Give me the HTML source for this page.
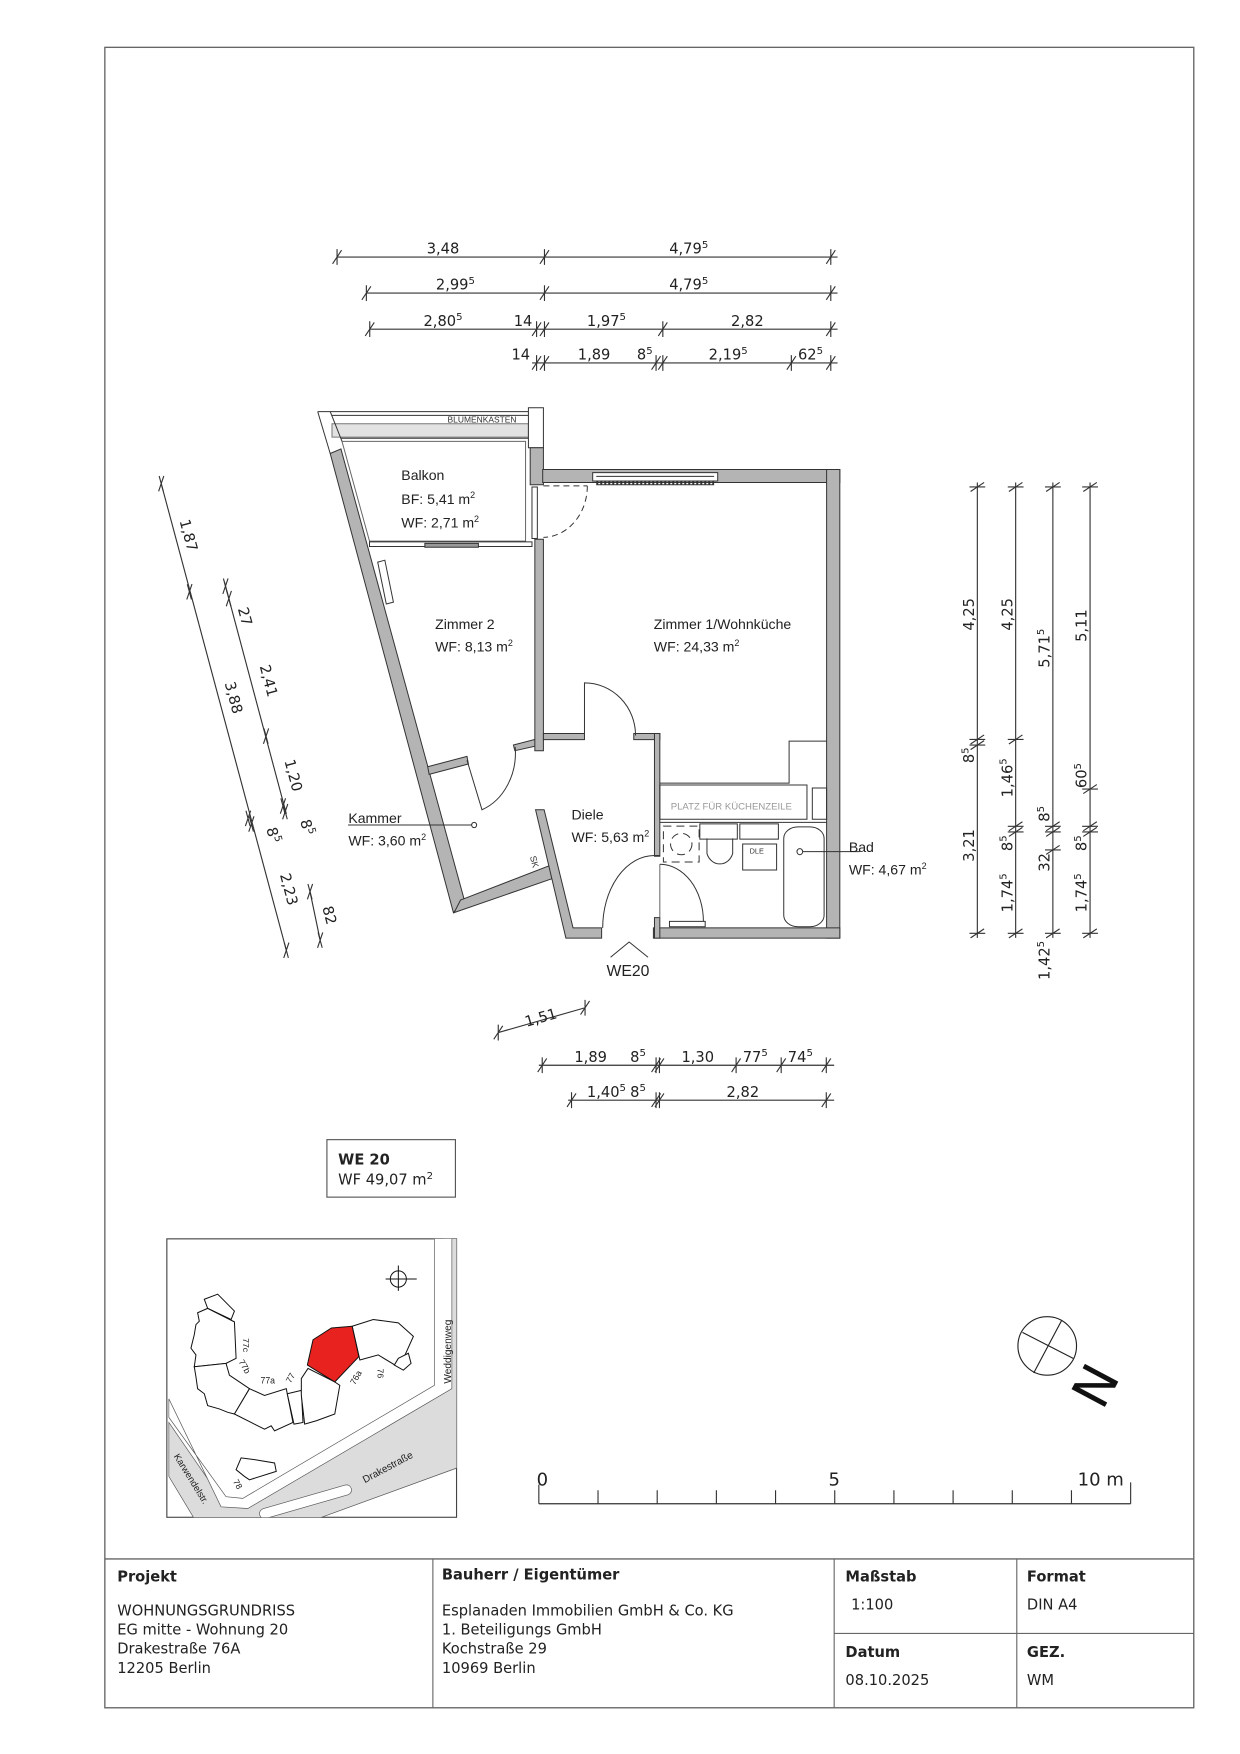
<!DOCTYPE html>
<html><head><meta charset="utf-8"><style>
html,body{margin:0;padding:0;background:#fff}
svg{display:block}
.d{font-family:"DejaVu Sans","Liberation Sans",sans-serif;font-size:13px;fill:#222}
.l{font-family:"Liberation Sans Narrow","Liberation Sans",sans-serif;font-size:12.5px;fill:#222}
.t{font-family:"DejaVu Sans","Liberation Sans",sans-serif;font-size:13px;fill:#222}
.tb{font-family:"DejaVu Sans","Liberation Sans",sans-serif;font-size:13px;font-weight:bold;fill:#222}
.w{fill:#b4b4b4;stroke:#333;stroke-width:1;vector-effect:non-scaling-stroke}
.ln{fill:none;stroke:#333;stroke-width:1;vector-effect:non-scaling-stroke}
.lg{fill:none;stroke:#666;stroke-width:1;vector-effect:non-scaling-stroke}
.dim line,.dim path{stroke:#333;stroke-width:1}
</style></head><body>
<svg width="1240" height="1754" viewBox="0 0 1100 1556" xmlns="http://www.w3.org/2000/svg">
<defs>
<g id="tk"><path d="M-4 6 L4 -6 M0 -7 L0 7" stroke="#333" stroke-width="1" fill="none"/></g>
<g id="tkv"><path d="M-6 4 L6 -4 M-7 0 L7 0" stroke="#333" stroke-width="1" fill="none"/></g>
</defs>
<!-- frame -->
<rect x="93" y="42" width="966" height="1473" fill="none" stroke="#666" stroke-width="1.2"/>
<g transform="translate(0,-10)">
<line x1="93" y1="1393" x2="1059" y2="1393" stroke="#666" stroke-width="1.2"/>
<line x1="384" y1="1393" x2="384" y2="1525" stroke="#666"/>
<line x1="740" y1="1393" x2="740" y2="1525" stroke="#666"/>
<line x1="902" y1="1393" x2="902" y2="1525" stroke="#666"/>
<line x1="740" y1="1459" x2="1059" y2="1459" stroke="#666"/>
<text class="tb" x="104" y="1413">Projekt</text>
<text class="t" x="104" y="1443">WOHNUNGSGRUNDRISS</text>
<text class="t" x="104" y="1460">EG mitte - Wohnung 20</text>
<text class="t" x="104" y="1477">Drakestraße 76A</text>
<text class="t" x="104" y="1494">12205 Berlin</text>
<text class="tb" x="392" y="1411">Bauherr / Eigentümer</text>
<text class="t" x="392" y="1443">Esplanaden Immobilien GmbH &amp; Co. KG</text>
<text class="t" x="392" y="1460">1. Beteiligungs GmbH</text>
<text class="t" x="392" y="1477">Kochstraße 29</text>
<text class="t" x="392" y="1494">10969 Berlin</text>
<text class="tb" x="750" y="1413">Maßstab</text>
<text class="t" x="755" y="1438">1:100</text>
<text class="tb" x="911" y="1413">Format</text>
<text class="t" x="911" y="1438">DIN A4</text>
<text class="tb" x="750" y="1480">Datum</text>
<text class="t" x="750" y="1505">08.10.2025</text>
<text class="tb" x="911" y="1480">GEZ.</text>
<text class="t" x="911" y="1505">WM</text>
</g>

<!-- top dimensions -->
<g class="dim">
<line x1="299" y1="228" x2="743" y2="228"/><use href="#tk" x="299" y="228"/><use href="#tk" x="483" y="228"/><use href="#tk" x="737" y="228"/>
<line x1="325" y1="260" x2="743" y2="260"/><use href="#tk" x="325" y="260"/><use href="#tk" x="483" y="260"/><use href="#tk" x="737" y="260"/>
<line x1="328" y1="292" x2="743" y2="292"/><use href="#tk" x="328" y="292"/><use href="#tk" x="476" y="292"/><use href="#tk" x="483" y="292"/><use href="#tk" x="588" y="292"/><use href="#tk" x="737" y="292"/>
<line x1="472" y1="322" x2="743" y2="322"/><use href="#tk" x="476" y="322"/><use href="#tk" x="483" y="322"/><use href="#tk" x="582" y="322"/><use href="#tk" x="588" y="322"/><use href="#tk" x="702" y="322"/><use href="#tk" x="737" y="322"/>
</g>
<g class="d" text-anchor="middle">
<text x="393" y="225">3,48</text><text x="611" y="225">4,79<tspan dy="-5" font-size="9">5</tspan></text>
<text x="404" y="257">2,99<tspan dy="-5" font-size="9">5</tspan></text><text x="611" y="257">4,79<tspan dy="-5" font-size="9">5</tspan></text>
<text x="393" y="289">2,80<tspan dy="-5" font-size="9">5</tspan></text><text x="464" y="289">14</text><text x="538" y="289">1,97<tspan dy="-5" font-size="9">5</tspan></text><text x="663" y="289">2,82</text>
<text x="462" y="319">14</text><text x="527" y="319">1,89</text><text x="572" y="319">8<tspan dy="-5" font-size="9">5</tspan></text><text x="646" y="319">2,19<tspan dy="-5" font-size="9">5</tspan></text><text x="719" y="319">62<tspan dy="-5" font-size="9">5</tspan></text>
</g>

<!-- bottom dimensions -->
<g class="dim">
<line x1="442" y1="916" x2="519" y2="894"/><use href="#tk" x="442" y="916"/><use href="#tk" x="519" y="894"/>
<line x1="478" y1="945" x2="740" y2="945"/><use href="#tk" x="481" y="945"/><use href="#tk" x="582" y="945"/><use href="#tk" x="585" y="945"/><use href="#tk" x="653" y="945"/><use href="#tk" x="693" y="945"/><use href="#tk" x="733" y="945"/>
<line x1="504" y1="976" x2="740" y2="976"/><use href="#tk" x="507" y="976"/><use href="#tk" x="582" y="976"/><use href="#tk" x="585" y="976"/><use href="#tk" x="733" y="976"/>
</g>
<g class="d" text-anchor="middle">
<text transform="translate(481,907) rotate(-16)">1,51</text>
<text x="524" y="942">1,89</text><text x="566" y="942">8<tspan dy="-5" font-size="9">5</tspan></text><text x="619" y="942">1,30</text><text x="670" y="942">77<tspan dy="-5" font-size="9">5</tspan></text><text x="710" y="942">74<tspan dy="-5" font-size="9">5</tspan></text>
<text x="538" y="973">1,40<tspan dy="-5" font-size="9">5</tspan></text><text x="566" y="973">8<tspan dy="-5" font-size="9">5</tspan></text><text x="659" y="973">2,82</text>
</g>

<!-- right vertical dims -->
<g class="dim">
<line x1="867" y1="428" x2="867" y2="832"/><use href="#tkv" x="867" y="432"/><use href="#tkv" x="867" y="656"/><use href="#tkv" x="867" y="661"/><use href="#tkv" x="867" y="828"/>
<line x1="901" y1="428" x2="901" y2="832"/><use href="#tkv" x="901" y="432"/><use href="#tkv" x="901" y="656"/><use href="#tkv" x="901" y="733"/><use href="#tkv" x="901" y="738"/><use href="#tkv" x="901" y="828"/>
<line x1="934" y1="428" x2="934" y2="832"/><use href="#tkv" x="934" y="432"/><use href="#tkv" x="934" y="733"/><use href="#tkv" x="934" y="738"/><use href="#tkv" x="934" y="754"/><use href="#tkv" x="934" y="828"/>
<line x1="967" y1="428" x2="967" y2="832"/><use href="#tkv" x="967" y="432"/><use href="#tkv" x="967" y="700"/><use href="#tkv" x="967" y="733"/><use href="#tkv" x="967" y="738"/><use href="#tkv" x="967" y="828"/>
</g>
<g class="d" text-anchor="middle">
<text transform="translate(864,545) rotate(-90)">4,25</text>
<text transform="translate(864,670) rotate(-90)">8<tspan dy="-5" font-size="9">5</tspan></text>
<text transform="translate(864,750) rotate(-90)">3,21</text>
<text transform="translate(898,545) rotate(-90)">4,25</text>
<text transform="translate(898,690) rotate(-90)">1,46<tspan dy="-5" font-size="9">5</tspan></text>
<text transform="translate(898,748) rotate(-90)">8<tspan dy="-5" font-size="9">5</tspan></text>
<text transform="translate(898,792) rotate(-90)">1,74<tspan dy="-5" font-size="9">5</tspan></text>
<text transform="translate(931,575) rotate(-90)">5,71<tspan dy="-5" font-size="9">5</tspan></text>
<text transform="translate(931,722) rotate(-90)">8<tspan dy="-5" font-size="9">5</tspan></text>
<text transform="translate(931,765) rotate(-90)">32</text>
<text transform="translate(931,852) rotate(-90)">1,42<tspan dy="-5" font-size="9">5</tspan></text>
<text transform="translate(964,555) rotate(-90)">5,11</text>
<text transform="translate(964,688) rotate(-90)">60<tspan dy="-5" font-size="9">5</tspan></text>
<text transform="translate(964,748) rotate(-90)">8<tspan dy="-5" font-size="9">5</tspan></text>
<text transform="translate(964,792) rotate(-90)">1,74<tspan dy="-5" font-size="9">5</tspan></text>
</g>

<!-- left slanted dims -->
<g class="dim">
<line x1="143" y1="429" x2="254" y2="843"/>
<use href="#tk" transform="translate(143,429) rotate(-15)"/><use href="#tk" transform="translate(168,525) rotate(-15)"/><use href="#tk" transform="translate(220,726) rotate(-15)"/><use href="#tk" transform="translate(223,731) rotate(-15)"/><use href="#tk" transform="translate(254,843) rotate(-15)"/>
<line x1="199" y1="516" x2="254" y2="722"/>
<use href="#tk" transform="translate(200,520) rotate(-15)"/><use href="#tk" transform="translate(203,531) rotate(-15)"/><use href="#tk" transform="translate(236,653) rotate(-15)"/><use href="#tk" transform="translate(251,715) rotate(-15)"/><use href="#tk" transform="translate(253,720) rotate(-15)"/>
<line x1="275" y1="791" x2="284" y2="834"/><use href="#tk" transform="translate(275,791) rotate(-15)"/><use href="#tk" transform="translate(284,834) rotate(-15)"/>
</g>
<g class="d" text-anchor="middle">
<text transform="translate(163,476) rotate(75)">1,87</text>
<text transform="translate(213,548) rotate(75)">27</text>
<text transform="translate(234,605) rotate(75)">2,41</text>
<text transform="translate(203,620) rotate(75)">3,88</text>
<text transform="translate(256,689) rotate(75)">1,20</text>
<text transform="translate(268,735) rotate(75)">8<tspan dy="-5" font-size="9">5</tspan></text>
<text transform="translate(238,742) rotate(75)">8<tspan dy="-5" font-size="9">5</tspan></text>
<text transform="translate(252,790) rotate(75)">2,23</text>
<text transform="translate(288,813) rotate(75)">82</text>
</g>

<!-- floor plan (zoom2 coords) -->
<g transform="translate(266,355) scale(0.3168,0.338)">
<path class="ln" d="M50 30 L640 30 M90 40 L640 40"/>
<rect x="90" y="62" width="550" height="35" fill="#e2e2e2" stroke="#777" vector-effect="non-scaling-stroke"/>
<path class="lg" d="M118 108 L632 108 L632 370 L195 370 Z"/>
<path class="ln" d="M115 100 L640 100"/>
<rect x="195" y="372" width="455" height="12" fill="#fff" stroke="#333" vector-effect="non-scaling-stroke"/>
<rect x="350" y="376" width="150" height="10" fill="#999" stroke="#333" vector-effect="non-scaling-stroke"/>
<path class="ln" d="M50 30 L85 140 M85 30 L118 108"/>
<rect x="640" y="20" width="42" height="105" fill="#fff" stroke="#333" vector-effect="non-scaling-stroke"/>
<polygon class="w" points="85,140 115,128 460,1310 430,1345"/>
<polygon class="w" points="450,1312 698,1222 706,1256 432,1345"/>
<polygon class="w" points="358,962 468,935 472,955 362,982"/>
<polygon class="w" points="598,905 660,890 660,908 602,920"/>
<rect class="w" x="645" y="125" width="37" height="97"/>
<rect class="w" x="658" y="365" width="24" height="555"/>
<rect class="w" x="680" y="182" width="832" height="34"/>
<rect class="w" x="1475" y="182" width="37" height="1230"/>
<rect class="w" x="990" y="1385" width="522" height="27"/>
<polygon class="w" points="660,1075 684,1075 765,1385 845,1385 845,1412 745,1412"/>
<rect class="w" x="682" y="875" width="115" height="16"/>
<rect class="w" x="935" y="875" width="73" height="16"/>
<rect class="w" x="993" y="875" width="15" height="322"/>
<rect class="w" x="993" y="1358" width="15" height="54"/>
<rect x="820" y="190" width="350" height="22" fill="#fff" stroke="#333" vector-effect="non-scaling-stroke"/>
<path class="ln" d="M830 200 L1160 200 M830 222 L1160 222"/>
<path d="M830 216 L1160 216" stroke="#333" stroke-width="4" stroke-dasharray="2 2" vector-effect="non-scaling-stroke" fill="none"/>
<polygon points="218,425 238,420 262,530 242,535" fill="#fff" stroke="#333" vector-effect="non-scaling-stroke"/>
<rect x="650" y="228" width="15" height="135" fill="#fff" stroke="#333" vector-effect="non-scaling-stroke"/>
<path class="ln" d="M682 225 L805 225" stroke-dasharray="6 4"/>
<path class="ln" d="M805 225 A125 135 0 0 1 682 360" stroke-dasharray="6 4"/>
<path class="ln" d="M797 880 L797 742 A143 138 0 0 1 940 880"/>
<path class="ln" d="M468 945 L510 1075 A145 160 0 0 0 603 910"/>
<path class="ln" d="M848 1385 A145 190 0 0 1 993 1195 L1008 1195"/>
<path class="lg" d="M1008 1218 L1008 1358"/>
<path class="ln" d="M1008 1218 A122 150 0 0 1 1130 1368"/>
<rect x="1035" y="1368" width="100" height="14" fill="#fff" stroke="#333" vector-effect="non-scaling-stroke"/>
<path class="ln" d="M1008 1005 L1370 1005 L1370 895 L1475 895"/>
<rect class="ln" x="1008" y="1010" width="412" height="90"/>
<rect class="ln" x="1435" y="1018" width="40" height="82"/>
<path class="ln" d="M1008 1108 L1475 1108"/>
<rect class="ln" x="1018" y="1118" width="100" height="94" stroke-dasharray="8 5"/>
<ellipse class="ln" cx="1068" cy="1165" rx="30" ry="28" stroke-dasharray="8 5"/>
<rect class="ln" x="1120" y="1112" width="105" height="40"/>
<path class="ln" d="M1140 1150 L1140 1190 A38 40 0 0 0 1212 1190 L1212 1150"/>
<rect class="ln" x="1232" y="1112" width="108" height="40"/>
<rect class="ln" x="1240" y="1165" width="95" height="68"/>
<rect class="ln" x="1355" y="1120" width="113" height="262" rx="40" ry="30"/>
<circle class="ln" cx="1400" cy="1185" r="8"/>
<path class="ln" d="M1408 1185 L1568 1185"/>
<path class="ln" d="M135 1115 L482 1115"/>
<circle class="ln" cx="488" cy="1115" r="7"/>
<path class="ln" d="M870 1462 L922 1422 L975 1462"/>
</g>
<g class="l">
<text x="356" y="426">Balkon</text>
<text x="356" y="447">BF: 5,41 m<tspan dy="-5" font-size="8">2</tspan></text>
<text x="356" y="468">WF: 2,71 m<tspan dy="-5" font-size="8">2</tspan></text>
<text x="386" y="558">Zimmer 2</text>
<text x="386" y="578">WF: 8,13 m<tspan dy="-5" font-size="8">2</tspan></text>
<text x="580" y="558">Zimmer 1/Wohnküche</text>
<text x="580" y="578">WF: 24,33 m<tspan dy="-5" font-size="8">2</tspan></text>
<text x="507" y="727">Diele</text>
<text x="507" y="747">WF: 5,63 m<tspan dy="-5" font-size="8">2</tspan></text>
<text x="309" y="730">Kammer</text>
<text x="309" y="750">WF: 3,60 m<tspan dy="-5" font-size="8">2</tspan></text>
<text x="753" y="756">Bad</text>
<text x="753" y="776">WF: 4,67 m<tspan dy="-5" font-size="8">2</tspan></text>
</g>
<text x="595" y="718" font-family="Liberation Sans,sans-serif" font-size="8.5" fill="#999">PLATZ FÜR KÜCHENZEILE</text>
<text x="397" y="375" font-family="Liberation Sans,sans-serif" font-size="7.5" fill="#333">BLUMENKASTEN</text>
<text x="665" y="757" font-family="Liberation Sans,sans-serif" font-size="6.5" fill="#333">DLE</text>
<text transform="translate(470,760) rotate(75)" font-family="Liberation Sans,sans-serif" font-size="8" fill="#333">SK</text>
<text x="538" y="866" font-family="Liberation Sans,sans-serif" font-size="14" fill="#222">WE20</text>

<g transform="translate(0,-8)">
<!-- WE box -->
<rect x="290" y="1019" width="114" height="51" fill="none" stroke="#555"/>
<text class="tb" x="300" y="1041">WE 20</text>
<text class="t" x="300" y="1059">WF 49,07 m<tspan dy="-5" font-size="9">2</tspan></text>

<!-- site plan -->
<rect x="148" y="1107" width="257" height="247" fill="#fff" stroke="#444"/>
<svg x="148" y="1107" width="257" height="247" viewBox="-6 -24 866 825" preserveAspectRatio="none" overflow="hidden">
<g transform="translate(-14,0)">
<polygon points="835,-30 875,-30 875,655 390,830 105,830 14,680 14,520 175,752 230,760 820,420 835,390" fill="#dcdcdc" stroke="#555" stroke-width="2"/>
<polygon points="14,450 14,505 185,740 235,745 808,410 808,-30 860,-30 860,420 250,775 170,770" fill="#fff" stroke="#555" stroke-width="2"/>
<path d="M300 790 L545 720" stroke="#555" stroke-width="32" stroke-linecap="round"/>
<path d="M300 790 L545 720" stroke="#fff" stroke-width="28" stroke-linecap="round"/>
<g fill="#fff" stroke="#111" stroke-width="3">
<polygon points="120,155 160,140 210,190 200,215 130,182"/>
<polygon points="100,195 130,182 210,222 215,330 185,345 90,355 95,320 80,300 90,260 95,230 105,220"/>
<polygon points="90,355 185,345 195,380 255,420 210,495 190,490 165,480 130,470 120,435 100,420 95,385"/>
<polygon points="255,420 300,440 365,420 385,520 330,545 320,530 300,540 260,520 210,495"/>
<polygon points="368,435 410,425 415,520 388,525"/>
<polygon points="410,390 430,360 510,400 525,410 510,495 455,515 420,525 410,440"/>
<polygon points="562,235 625,215 700,225 745,265 720,320 690,350 640,320 585,335"/>
<polygon points="700,330 730,315 738,345 715,365 688,350"/>
<polygon points="215,660 230,625 270,630 330,640 335,665 255,690 240,680"/>
</g>
<polygon points="428,350 445,275 500,240 562,235 582,325 510,400" fill="#e8231f" stroke="#111" stroke-width="3"/>
<circle cx="700" cy="95" r="24" fill="none" stroke="#111" stroke-width="3"/>
<path d="M662 95 L755 95 M700 55 L700 130" stroke="#111" stroke-width="3"/>
<g font-family="Liberation Sans,sans-serif" font-size="26" fill="#222">
<text transform="translate(235,270) rotate(90)">77c</text>
<text transform="translate(222,340) rotate(60)">77b</text>
<text x="288" y="405">77a</text>
<text transform="translate(378,405) rotate(-60)">77</text>
<text transform="translate(570,410) rotate(-60)">76a</text>
<text transform="translate(638,360) rotate(90)">76</text>
<text transform="translate(205,695) rotate(60)">78</text>
<text transform="translate(858,405) rotate(-90)" font-size="30">Weddigenweg</text>
<text transform="translate(600,700) rotate(-28)" font-size="30">Drakestraße</text>
<text transform="translate(28,620) rotate(58)" font-size="28">Karwendelstr.</text>
</g>
</g>
</svg>

<!-- north -->
<circle cx="929" cy="1202" r="26" fill="none" stroke="#222"/>
<path d="M907 1190 L952 1213 M942 1179 L917 1226" stroke="#222" fill="none"/>
<text transform="translate(978,1260) rotate(-62)" font-family="DejaVu Sans,sans-serif" font-size="46" fill="#111">N</text>

<!-- scale bar -->
<path d="M478 1342 L1003 1342 M478 1325 L478 1342 M1003 1323 L1003 1342" stroke="#333" fill="none"/>
<path d="M530.5 1330 L530.5 1342 M583 1330 L583 1342 M635.5 1330 L635.5 1342 M688 1330 L688 1342 M740.5 1330 L740.5 1342 M793 1330 L793 1342 M845.5 1330 L845.5 1342 M898 1330 L898 1342 M950.5 1330 L950.5 1342" stroke="#333"/>
<text x="476" y="1326" font-family="DejaVu Sans,sans-serif" font-size="16" fill="#222">0</text>
<text x="735" y="1326" font-family="DejaVu Sans,sans-serif" font-size="16" fill="#222">5</text>
<text x="956" y="1326" font-family="DejaVu Sans,sans-serif" font-size="16" fill="#222">10 m</text>
</g>
</svg>
</body></html>
